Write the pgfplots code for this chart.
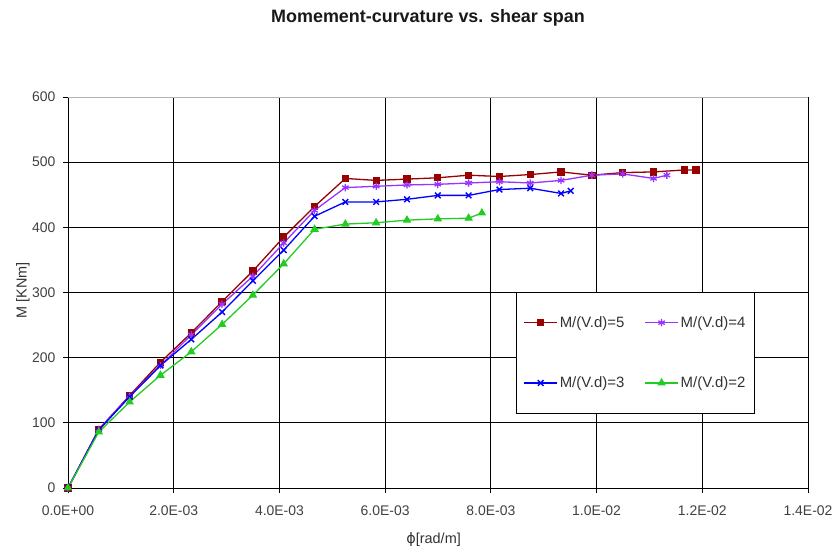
\documentclass[border=0pt]{standalone}
\usepackage{pgfplots}
\pgfplotsset{compat=1.18}
\usepackage{fontspec}
\setmainfont{Liberation Sans}
\newfontfamily\symfont{DejaVu Sans}

\definecolor{cRed}{HTML}{990000}
\definecolor{cPurple}{HTML}{9933FF}
\definecolor{cBlue}{HTML}{0000FF}
\definecolor{cGreen}{HTML}{22CC22}

\begin{document}
\begin{tikzpicture}[x=1bp,y=1bp]
\useasboundingbox (0,0) rectangle (836,549);
\node[font=\fontsize{18}{21}\selectfont\bfseries, text=black!90] at (428,531) {Momement-curvature vs. shear span};
\begin{axis}[
  at={(68bp,61bp)}, anchor=south west,
  scale only axis, width=740bp, height=391bp,
  xmin=0, xmax=0.014, ymin=0, ymax=600,
  xtick={0,0.002,0.004,0.006,0.008,0.010,0.012,0.014},
  xticklabels={0.0E+00,2.0E-03,4.0E-03,6.0E-03,8.0E-03,1.0E-02,1.2E-02,1.4E-02},
  scaled x ticks=false,
  ytick={0,100,200,300,400,500,600},
  /pgf/number format/assume math mode=true,
  tick label style={font=\fontsize{14}{16}\selectfont, text=black!75},
  xticklabel style={yshift=-9bp},
  yticklabel style={xshift=-4bp},
  tick align=outside, major tick length=5bp,
  tick style={black, line width=0.8bp},
  xtick pos=bottom, ytick pos=left,
  grid=major,
  major grid style={black, line width=0.9bp},
  axis line style={black, line width=0.9bp},
  axis x line*=bottom, axis y line*=left,
  xlabel={{\symfont ϕ}[rad/m]},
  ylabel={M [KNm]},
  label style={font=\fontsize{14.5}{17}\selectfont, text=black!80},
  xlabel style={at={(axis description cs:0.494,-0.1305)}, anchor=center},
  ylabel style={at={(axis description cs:-0.0608,0.506)}, anchor=center},
  legend columns=2,
  legend cell align=left,
  legend style={at={(axis description cs:0.6054,0.5013)}, anchor=north west,
    draw=black, line width=1bp, fill=white,
    font=\fontsize{15}{17}\selectfont, text=black!80,
    inner xsep=7bp, inner ysep=22bp, row sep=44bp,
    /tikz/every even column/.append style={column sep=18bp}},
  legend image code/.code={%
    \draw[mark repeat=2,mark phase=2,#1] plot coordinates {(0bp,0bp) (16.5bp,0bp) (33bp,0bp)};},
  every axis plot/.append style={line width=1.3bp},
]
\draw[gray!60, line width=0.9bp] (rel axis cs:0,1) -- (rel axis cs:1,1);

% M/(V.d)=5
\addplot[color=cRed, draw=cRed, mark=square*, mark size=3bp, mark options={solid, draw=cRed, fill=cRed}] coordinates {
 (0,0) (0.000583,90) (0.001166,142) (0.001749,193) (0.002332,238) (0.002915,286)
 (0.003498,333) (0.004081,385) (0.004664,432) (0.005247,475) (0.005830,472)
 (0.006413,474) (0.006996,476) (0.007579,480) (0.008162,478) (0.008745,481)
 (0.009328,485) (0.009911,480) (0.010494,484) (0.011077,485) (0.011660,488)
 (0.011880,488)};
\addlegendentry{M/(V.d)=5}

% M/(V.d)=4
\addplot[color=cPurple, draw=cPurple, mark=asterisk, mark size=3.7bp, mark options={solid, draw=cPurple, line width=1.3bp}] coordinates {
 (0,0) (0.000583,90) (0.001166,141) (0.001749,188) (0.002332,235) (0.002915,282)
 (0.003498,325) (0.004081,376) (0.004664,426) (0.005247,461) (0.005830,463)
 (0.006413,465) (0.006996,466) (0.007579,468) (0.008162,470) (0.008745,468)
 (0.009328,472) (0.009911,480) (0.010494,482) (0.011077,475) (0.011330,480)};
\addlegendentry{M/(V.d)=4}

% M/(V.d)=3
\addplot[color=cBlue, draw=cBlue, mark=x, mark size=4bp, mark options={solid, draw=cBlue, line width=1.4bp}] coordinates {
 (0,0) (0.000583,89) (0.001166,140) (0.001749,188) (0.002332,228) (0.002915,270)
 (0.003498,318) (0.004081,365) (0.004664,417) (0.005247,439) (0.005830,439)
 (0.006413,443) (0.006996,449) (0.007579,449) (0.008162,458) (0.008745,460)
 (0.009328,452) (0.009510,456)};
\addlegendentry{M/(V.d)=3}

% M/(V.d)=2
\addplot[color=cGreen, draw=cGreen, mark=triangle*, mark size=3.7bp, mark options={solid, draw=cGreen, fill=cGreen}] coordinates {
 (0,0) (0.000583,86) (0.001166,132) (0.001749,173) (0.002332,209) (0.002915,251)
 (0.003498,296) (0.004081,344) (0.004664,397) (0.005247,405) (0.005830,407)
 (0.006413,411) (0.006996,413) (0.007579,414) (0.007830,422)};
\addlegendentry{M/(V.d)=2}
\end{axis}
\end{tikzpicture}
\end{document}
